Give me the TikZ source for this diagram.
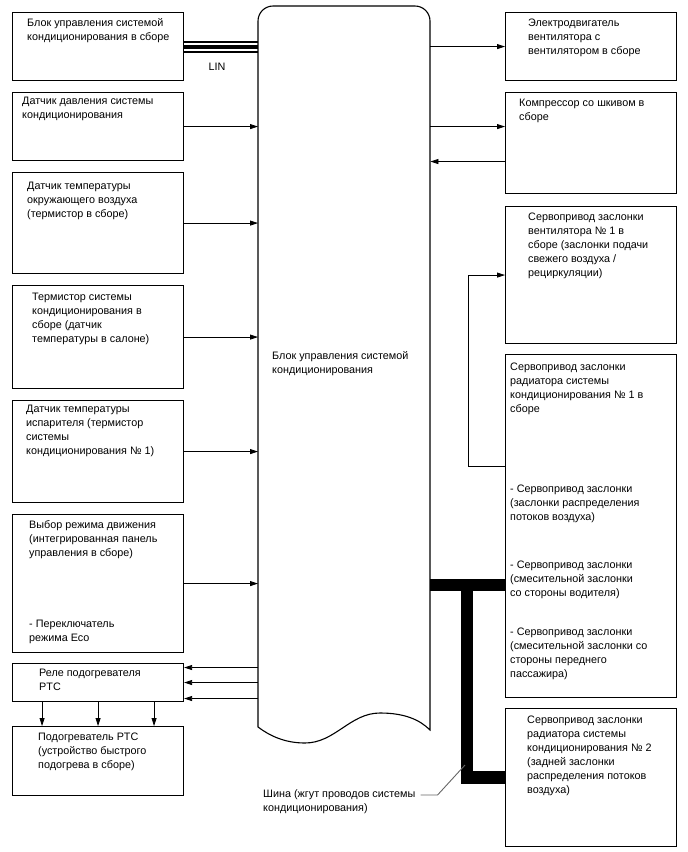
\documentclass[tikz,border=0pt]{standalone}
\usepackage{fontspec}
\setmainfont{Liberation Sans}
\usetikzlibrary{arrows.meta,positioning,calc}

\begin{document}
\begin{tikzpicture}[
    x=1pt, y=-1pt,
    box/.style={draw, line width=1.1pt, anchor=north west, inner sep=0pt, minimum width=171pt},
    lbl/.style={anchor=north west, align=left, inner sep=0pt, font=\fontsize{10.8}{14}\selectfont},
    arr/.style={line width=0.8pt, -{Triangle[length=8pt,width=5pt]}},
    bus/.style={line width=12.5pt},
    leader/.style={draw=black!60, line width=0.9pt},
]
\useasboundingbox (0,0) rectangle (688,852);

% control unit
\node[inner sep=0pt, minimum width=172pt, minimum height=721pt, anchor=north west] (ecu) at (258,6) {};
\draw[line width=1.1pt] (258,727) {[rounded corners=15pt] -- (258,6) -- (430,6) -- (430,300)} -- (430,730)
    .. controls (420,720) and (405,713) .. (380,713)
    .. controls (350,713) and (335,743) .. (305,743)
    .. controls (285,743) and (270,736) .. (258,727);
\node[lbl] (ecutxt) at (272,351) {Блок управления системой\\кондиционирования};

% left side
\node[box, minimum height=68pt] (b1) at (12,12) {};
\node[box, minimum height=68pt] (b2) at (12,92) {};
\node[box, minimum height=101pt] (b3) at (12,172) {};
\node[box, minimum height=103pt] (b4) at (12,285) {};
\node[box, minimum height=102pt] (b5) at (12,400) {};
\node[box, minimum height=138pt] (b6) at (12,514) {};
\node[box, minimum height=38pt] (b7) at (12,663) {};
\node[box, minimum height=69pt] (b8) at (12,726) {};

\node[lbl] (t1) at ([shift={(15,6)}]b1.north west) {Блок управления системой\\кондиционирования в сборе};
\node[lbl] (t2) at ([shift={(10,5)}]b2.north west) {Датчик давления системы\\кондиционирования};
\node[lbl] (t3) at ([shift={(15,10)}]b3.north west) {Датчик температуры\\окружающего воздуха\\(термистор в сборе)};
\node[lbl] (t4) at ([shift={(20,8)}]b4.north west) {Термистор системы\\кондиционирования в\\сборе (датчик\\температуры в салоне)};
\node[lbl] (t5) at ([shift={(14,5)}]b5.north west) {Датчик температуры\\испарителя (термистор\\системы\\кондиционирования № 1)};
\node[lbl] (t6) at ([shift={(17,6)}]b6.north west) {Выбор режима движения\\(интегрированная панель\\управления в сборе)\\[57pt]- Переключатель\\режима Eco};
\node[lbl] (t7) at ([shift={(27,6)}]b7.north west) {Реле подогревателя\\PTC};
\node[lbl] (t8) at ([shift={(26,7)}]b8.north west) {Подогреватель PTC\\(устройство быстрого\\подогрева в сборе)};

% LIN
\draw[line width=2pt] ([yshift=5pt]b1.east) -- ([yshift=5pt]b1.east -| ecu.west);
\draw[line width=4pt] (b1.east) -- (b1.east -| ecu.west);
\draw[line width=2pt] ([yshift=-5pt]b1.east) -- ([yshift=-5pt]b1.east -| ecu.west);
\node[inner sep=0pt, font=\fontsize{10.8}{14}\selectfont] (lin) at (217,67) {LIN};

\foreach \n in {b2,b3,b4,b5,b6}
    \draw[arr] (\n.east) -- (\n.east -| ecu.west);

\foreach \dy [count=\i] in {15,0,-16} {
    \coordinate (p\i) at ([yshift=\dy pt]b7.east);
    \draw[arr] (p\i -| ecu.west) -- (p\i);
}
\foreach \dx in {-56,0,56}
    \draw[arr] ([xshift=\dx pt]b7.south) -- ([xshift=\dx pt]b8.north);

% right side
\node[box, minimum height=68pt] (r1) at (505,12) {};
\node[box, minimum height=101pt] (r2) at (505,92) {};
\node[box, minimum height=137pt] (r3) at (505,206) {};
\node[box, minimum height=343pt] (r4) at (505,354) {};
\node[box, minimum height=138pt] (r5) at (505,708) {};

\node[lbl] (s1) at ([shift={(23,7)}]r1.north west) {Электродвигатель\\вентилятора с\\вентилятором в сборе};
\node[lbl] (s2) at ([shift={(14,7)}]r2.north west) {Компрессор со шкивом в\\сборе};
\node[lbl] (s3) at ([shift={(23,7)}]r3.north west) {Сервопривод заслонки\\вентилятора № 1 в\\сборе (заслонки подачи\\свежего воздуха /\\рециркуляции)};
\node[lbl] (s4) at ([shift={(5,9)}]r4.north west) {Сервопривод заслонки\\радиатора системы\\кондиционирования № 1 в\\сборе\\[66pt]- Сервопривод заслонки\\(заслонки распределения\\потоков воздуха)\\[34pt]- Сервопривод заслонки\\(смесительной заслонки\\со стороны водителя)\\[25pt]- Сервопривод заслонки\\(смесительной заслонки со\\стороны переднего\\пассажира)};
\node[lbl] (s5) at ([shift={(22,8)}]r5.north west) {Сервопривод заслонки\\радиатора системы\\кондиционирования № 2\\(задней заслонки\\распределения потоков\\воздуха)};

\draw[arr] (r1.west -| ecu.east) -- (r1.west);
\coordinate (r2in) at ([yshift=16.5pt]r2.west);
\coordinate (r2out) at ([yshift=-18.5pt]r2.west);
\draw[arr] (r2in -| ecu.east) -- (r2in);
\draw[arr] (r2out) -- (r2out -| ecu.east);
\coordinate (r4out) at ([yshift=59.5pt]r4.west);
\draw[arr] (r4out) -- ++(-37,0) |- (r3.west);

% bus
\coordinate (j) at (467,585);
\draw[bus] (ecu.east |- j) -- (r4.west |- j);
\draw[bus] (j) |- (r5.west);
\node[lbl] (shina) at (263,789) {Шина (жгут проводов системы\\кондиционирования)};
\coordinate (tap) at (465,765);
\draw[leader] ([shift={(5,6)}]shina.north east) -- ++(17,0) -- (tap);
\end{tikzpicture}
\end{document}
